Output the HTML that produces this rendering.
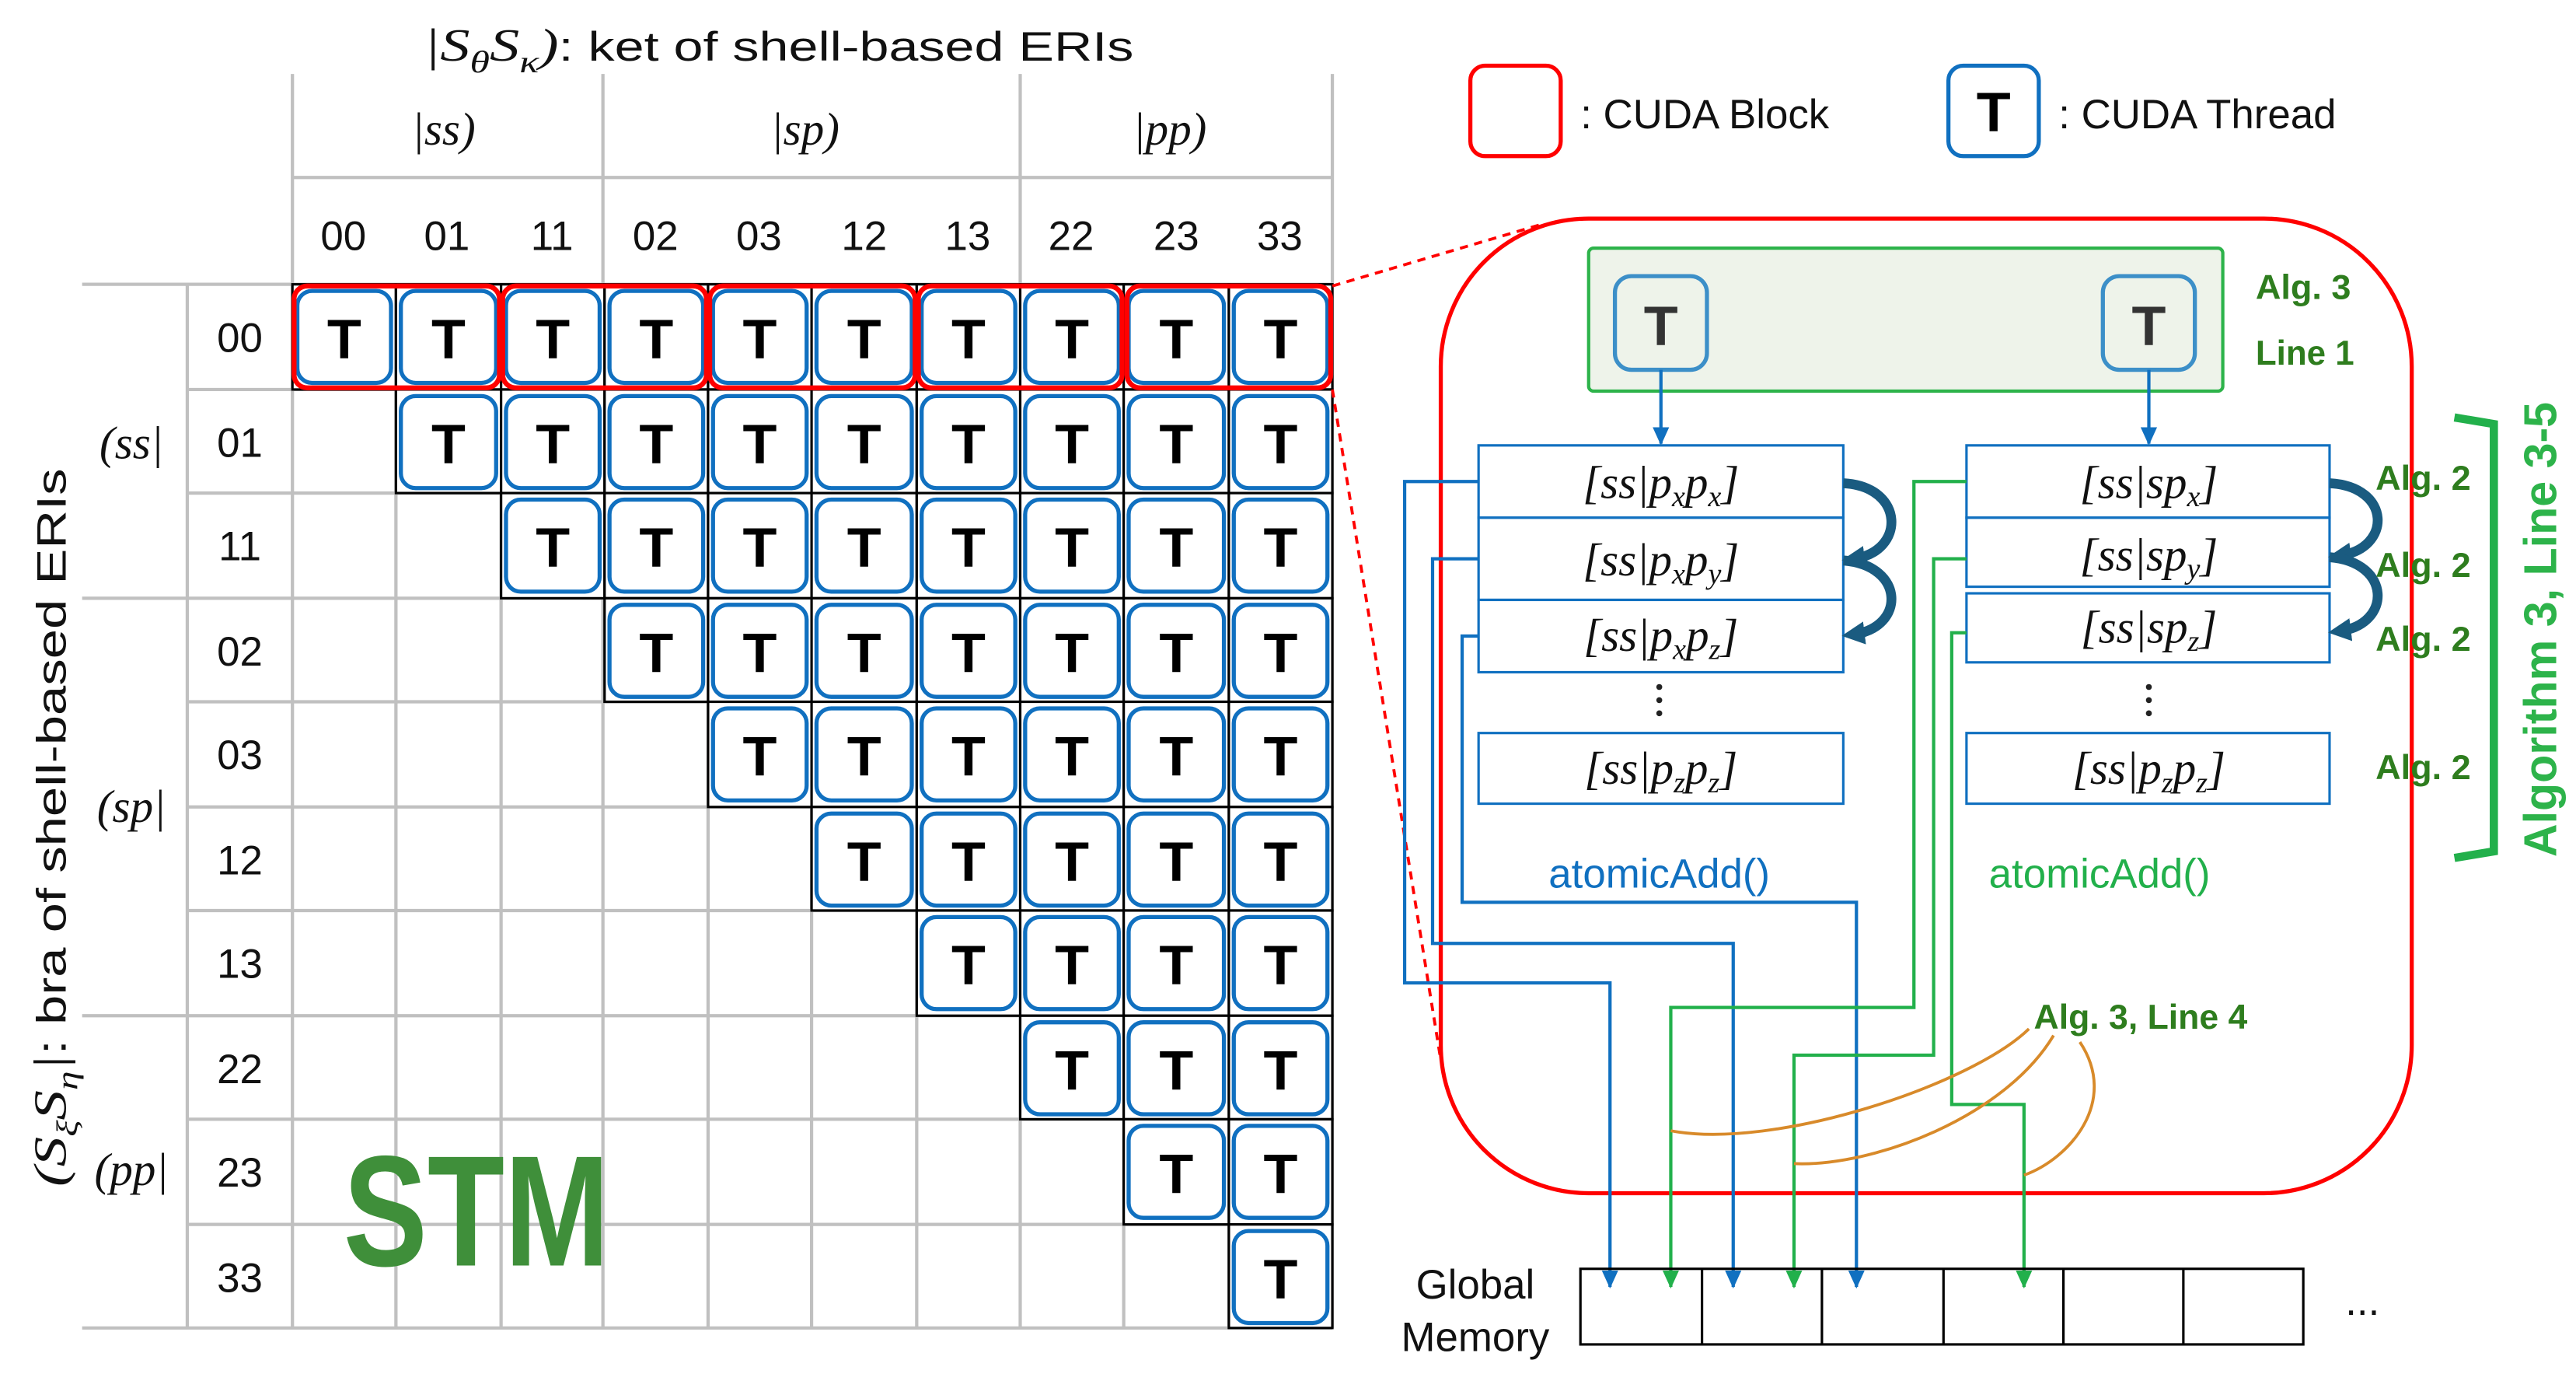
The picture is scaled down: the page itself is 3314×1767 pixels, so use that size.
<!DOCTYPE html>
<html><head><meta charset="utf-8"><style>
html,body{margin:0;padding:0;background:#fff}
svg{display:block}
.g{stroke:#c0c0c0;stroke-width:2;fill:none}
.k{fill:#fff;stroke:#000;stroke-width:1.5}
.b{fill:#fff;stroke:#1070c0;stroke-width:2.5}
.t{font-family:"Liberation Sans",sans-serif;font-weight:bold;font-size:34px;text-anchor:middle;fill:#000}
.n{font-family:"Liberation Sans",sans-serif;font-size:25px;text-anchor:middle;fill:#111}
.m{font-family:"Liberation Serif",serif;font-style:italic;font-size:28px;fill:#111}
.s{font-family:"Liberation Sans",sans-serif;font-size:25px;fill:#111}
.al{font-family:"Liberation Sans",sans-serif;font-weight:bold;font-size:21px;fill:#2e7d1e}
.bx{fill:#fff;stroke:#1070c0;stroke-width:1.5}
.bl{stroke:#1070c0;stroke-width:2;fill:none}
.gl{stroke:#22b04b;stroke-width:2;fill:none}
.cv{stroke:#1a5b80;stroke-width:6;fill:none}
.or{stroke:#d88a2a;stroke-width:1.8;fill:none}
</style></head><body>
<svg width="3314" height="1767" viewBox="0 0 1568 836" preserveAspectRatio="none" xmlns="http://www.w3.org/2000/svg">
<defs>
<marker id="ab" markerWidth="11" markerHeight="10" refX="10" refY="5" orient="auto" markerUnits="userSpaceOnUse"><path d="M0,0 L11,5 L0,10 z" fill="#1070c0"/></marker>
<marker id="ag" markerWidth="11" markerHeight="10" refX="10" refY="5" orient="auto" markerUnits="userSpaceOnUse"><path d="M0,0 L11,5 L0,10 z" fill="#22b04b"/></marker>
<marker id="ac" markerWidth="14" markerHeight="14" refX="7" refY="7" orient="auto" markerUnits="userSpaceOnUse"><path d="M0,0 L14,7 L0,14 z" fill="#1a5b80"/></marker>
</defs>
<g class="g">
<line x1="178" y1="45" x2="178" y2="808"/>
<line x1="367" y1="45" x2="367" y2="808"/>
<line x1="621" y1="45" x2="621" y2="808"/>
<line x1="811" y1="45" x2="811" y2="808"/>
<line x1="178" y1="108" x2="811" y2="108"/>
<line x1="114" y1="173" x2="114" y2="808"/>
<line x1="241" y1="173" x2="241" y2="808"/><line x1="305" y1="173" x2="305" y2="808"/>
<line x1="431" y1="173" x2="431" y2="808"/><line x1="494" y1="173" x2="494" y2="808"/>
<line x1="558" y1="173" x2="558" y2="808"/><line x1="684" y1="173" x2="684" y2="808"/>
<line x1="748" y1="173" x2="748" y2="808"/>
<line x1="50" y1="173" x2="811" y2="173"/><line x1="50" y1="364" x2="811" y2="364"/>
<line x1="50" y1="618" x2="811" y2="618"/><line x1="50" y1="808" x2="811" y2="808"/>
<line x1="114" y1="237" x2="811" y2="237"/><line x1="114" y1="300" x2="811" y2="300"/>
<line x1="114" y1="427" x2="811" y2="427"/><line x1="114" y1="491" x2="811" y2="491"/>
<line x1="114" y1="554" x2="811" y2="554"/><line x1="114" y1="681" x2="811" y2="681"/>
<line x1="114" y1="745" x2="811" y2="745"/>
</g>
<text x="258" y="37" class="s" font-size="30" textLength="432" lengthAdjust="spacingAndGlyphs"><tspan class="m" font-size="30">|S<tspan font-size="19" dy="7">θ</tspan><tspan dy="-7">S</tspan><tspan font-size="19" dy="7">κ</tspan><tspan dy="-7">)</tspan></tspan>: ket of shell-based ERIs</text>
<text x="270" y="88" class="m" text-anchor="middle">|ss)</text>
<text x="490" y="88" class="m" text-anchor="middle">|sp)</text>
<text x="712" y="88" class="m" text-anchor="middle">|pp)</text>
<g class="n">
<text x="209" y="152">00</text><text x="272" y="152">01</text><text x="336" y="152">11</text><text x="399" y="152">02</text><text x="462" y="152">03</text><text x="526" y="152">12</text><text x="589" y="152">13</text><text x="652" y="152">22</text><text x="716" y="152">23</text><text x="779" y="152">33</text>
<text x="146" y="214">00</text><text x="146" y="278">01</text><text x="146" y="341">11</text><text x="146" y="405">02</text><text x="146" y="468">03</text><text x="146" y="532">12</text><text x="146" y="595">13</text><text x="146" y="659">22</text><text x="146" y="722">23</text><text x="146" y="786">33</text>
</g>
<text x="80" y="279" class="m" text-anchor="middle">(ss|</text>
<text x="80" y="500" class="m" text-anchor="middle">(sp|</text>
<text x="80" y="721" class="m" text-anchor="middle">(pp|</text>
<text transform="translate(40,722) rotate(-90)" class="s" font-size="29" textLength="437" lengthAdjust="spacingAndGlyphs"><tspan class="m" font-size="29">(S<tspan font-size="18" dy="7">ξ</tspan><tspan dy="-7">S</tspan><tspan font-size="18" dy="7">η</tspan><tspan dy="-7">|</tspan></tspan>: bra of shell-based ERIs</text>
<text x="209" y="770" font-family="Liberation Sans,sans-serif" font-weight="bold" font-size="96" fill="#3f8f3a" textLength="162" lengthAdjust="spacingAndGlyphs">STM</text>
<g>
<rect class="k" x="178" y="173" width="63" height="64"/><rect class="k" x="241" y="173" width="64" height="64"/><rect class="k" x="305" y="173" width="63" height="64"/><rect class="k" x="368" y="173" width="63" height="64"/><rect class="k" x="431" y="173" width="63" height="64"/><rect class="k" x="494" y="173" width="64" height="64"/><rect class="k" x="558" y="173" width="63" height="64"/><rect class="k" x="621" y="173" width="63" height="64"/><rect class="k" x="684" y="173" width="64" height="64"/><rect class="k" x="748" y="173" width="63" height="64"/>
<rect class="k" x="241" y="237" width="64" height="63"/><rect class="k" x="305" y="237" width="63" height="63"/><rect class="k" x="368" y="237" width="63" height="63"/><rect class="k" x="431" y="237" width="63" height="63"/><rect class="k" x="494" y="237" width="64" height="63"/><rect class="k" x="558" y="237" width="63" height="63"/><rect class="k" x="621" y="237" width="63" height="63"/><rect class="k" x="684" y="237" width="64" height="63"/><rect class="k" x="748" y="237" width="63" height="63"/>
<rect class="k" x="305" y="300" width="63" height="64"/><rect class="k" x="368" y="300" width="63" height="64"/><rect class="k" x="431" y="300" width="63" height="64"/><rect class="k" x="494" y="300" width="64" height="64"/><rect class="k" x="558" y="300" width="63" height="64"/><rect class="k" x="621" y="300" width="63" height="64"/><rect class="k" x="684" y="300" width="64" height="64"/><rect class="k" x="748" y="300" width="63" height="64"/>
<rect class="k" x="368" y="364" width="63" height="63"/><rect class="k" x="431" y="364" width="63" height="63"/><rect class="k" x="494" y="364" width="64" height="63"/><rect class="k" x="558" y="364" width="63" height="63"/><rect class="k" x="621" y="364" width="63" height="63"/><rect class="k" x="684" y="364" width="64" height="63"/><rect class="k" x="748" y="364" width="63" height="63"/>
<rect class="k" x="431" y="427" width="63" height="64"/><rect class="k" x="494" y="427" width="64" height="64"/><rect class="k" x="558" y="427" width="63" height="64"/><rect class="k" x="621" y="427" width="63" height="64"/><rect class="k" x="684" y="427" width="64" height="64"/><rect class="k" x="748" y="427" width="63" height="64"/>
<rect class="k" x="494" y="491" width="64" height="63"/><rect class="k" x="558" y="491" width="63" height="63"/><rect class="k" x="621" y="491" width="63" height="63"/><rect class="k" x="684" y="491" width="64" height="63"/><rect class="k" x="748" y="491" width="63" height="63"/>
<rect class="k" x="558" y="554" width="63" height="64"/><rect class="k" x="621" y="554" width="63" height="64"/><rect class="k" x="684" y="554" width="64" height="64"/><rect class="k" x="748" y="554" width="63" height="64"/>
<rect class="k" x="621" y="618" width="63" height="63"/><rect class="k" x="684" y="618" width="64" height="63"/><rect class="k" x="748" y="618" width="63" height="63"/>
<rect class="k" x="684" y="681" width="64" height="64"/><rect class="k" x="748" y="681" width="63" height="64"/>
<rect class="k" x="748" y="745" width="63" height="63"/>
</g>
<g>
<rect class="b" x="181" y="177" width="57" height="56" rx="9"/><rect class="b" x="244" y="177" width="58" height="56" rx="9"/><rect class="b" x="308" y="177" width="57" height="56" rx="9"/><rect class="b" x="371" y="177" width="57" height="56" rx="9"/><rect class="b" x="434" y="177" width="57" height="56" rx="9"/><rect class="b" x="497" y="177" width="58" height="56" rx="9"/><rect class="b" x="561" y="177" width="57" height="56" rx="9"/><rect class="b" x="624" y="177" width="57" height="56" rx="9"/><rect class="b" x="687" y="177" width="58" height="56" rx="9"/><rect class="b" x="751" y="177" width="57" height="56" rx="9"/>
<rect class="b" x="244" y="241" width="58" height="56" rx="9"/><rect class="b" x="308" y="241" width="57" height="56" rx="9"/><rect class="b" x="371" y="241" width="57" height="56" rx="9"/><rect class="b" x="434" y="241" width="57" height="56" rx="9"/><rect class="b" x="497" y="241" width="58" height="56" rx="9"/><rect class="b" x="561" y="241" width="57" height="56" rx="9"/><rect class="b" x="624" y="241" width="57" height="56" rx="9"/><rect class="b" x="687" y="241" width="58" height="56" rx="9"/><rect class="b" x="751" y="241" width="57" height="56" rx="9"/>
<rect class="b" x="308" y="304" width="57" height="56" rx="9"/><rect class="b" x="371" y="304" width="57" height="56" rx="9"/><rect class="b" x="434" y="304" width="57" height="56" rx="9"/><rect class="b" x="497" y="304" width="58" height="56" rx="9"/><rect class="b" x="561" y="304" width="57" height="56" rx="9"/><rect class="b" x="624" y="304" width="57" height="56" rx="9"/><rect class="b" x="687" y="304" width="58" height="56" rx="9"/><rect class="b" x="751" y="304" width="57" height="56" rx="9"/>
<rect class="b" x="371" y="368" width="57" height="56" rx="9"/><rect class="b" x="434" y="368" width="57" height="56" rx="9"/><rect class="b" x="497" y="368" width="58" height="56" rx="9"/><rect class="b" x="561" y="368" width="57" height="56" rx="9"/><rect class="b" x="624" y="368" width="57" height="56" rx="9"/><rect class="b" x="687" y="368" width="58" height="56" rx="9"/><rect class="b" x="751" y="368" width="57" height="56" rx="9"/>
<rect class="b" x="434" y="431" width="57" height="56" rx="9"/><rect class="b" x="497" y="431" width="58" height="56" rx="9"/><rect class="b" x="561" y="431" width="57" height="56" rx="9"/><rect class="b" x="624" y="431" width="57" height="56" rx="9"/><rect class="b" x="687" y="431" width="58" height="56" rx="9"/><rect class="b" x="751" y="431" width="57" height="56" rx="9"/>
<rect class="b" x="497" y="495" width="58" height="56" rx="9"/><rect class="b" x="561" y="495" width="57" height="56" rx="9"/><rect class="b" x="624" y="495" width="57" height="56" rx="9"/><rect class="b" x="687" y="495" width="58" height="56" rx="9"/><rect class="b" x="751" y="495" width="57" height="56" rx="9"/>
<rect class="b" x="561" y="558" width="57" height="56" rx="9"/><rect class="b" x="624" y="558" width="57" height="56" rx="9"/><rect class="b" x="687" y="558" width="58" height="56" rx="9"/><rect class="b" x="751" y="558" width="57" height="56" rx="9"/>
<rect class="b" x="624" y="622" width="57" height="56" rx="9"/><rect class="b" x="687" y="622" width="58" height="56" rx="9"/><rect class="b" x="751" y="622" width="57" height="56" rx="9"/>
<rect class="b" x="687" y="685" width="58" height="56" rx="9"/><rect class="b" x="751" y="685" width="57" height="56" rx="9"/>
<rect class="b" x="751" y="749" width="57" height="56" rx="9"/>
</g>
<g class="t">
<text x="209.5" y="218">T</text><text x="273" y="218">T</text><text x="336.5" y="218">T</text><text x="399.5" y="218">T</text><text x="462.5" y="218">T</text><text x="526" y="218">T</text><text x="589.5" y="218">T</text><text x="652.5" y="218">T</text><text x="716" y="218">T</text><text x="779.5" y="218">T</text>
<text x="273" y="282">T</text><text x="336.5" y="282">T</text><text x="399.5" y="282">T</text><text x="462.5" y="282">T</text><text x="526" y="282">T</text><text x="589.5" y="282">T</text><text x="652.5" y="282">T</text><text x="716" y="282">T</text><text x="779.5" y="282">T</text>
<text x="336.5" y="345">T</text><text x="399.5" y="345">T</text><text x="462.5" y="345">T</text><text x="526" y="345">T</text><text x="589.5" y="345">T</text><text x="652.5" y="345">T</text><text x="716" y="345">T</text><text x="779.5" y="345">T</text>
<text x="399.5" y="409">T</text><text x="462.5" y="409">T</text><text x="526" y="409">T</text><text x="589.5" y="409">T</text><text x="652.5" y="409">T</text><text x="716" y="409">T</text><text x="779.5" y="409">T</text>
<text x="462.5" y="472">T</text><text x="526" y="472">T</text><text x="589.5" y="472">T</text><text x="652.5" y="472">T</text><text x="716" y="472">T</text><text x="779.5" y="472">T</text>
<text x="526" y="536">T</text><text x="589.5" y="536">T</text><text x="652.5" y="536">T</text><text x="716" y="536">T</text><text x="779.5" y="536">T</text>
<text x="589.5" y="599">T</text><text x="652.5" y="599">T</text><text x="716" y="599">T</text><text x="779.5" y="599">T</text>
<text x="652.5" y="663">T</text><text x="716" y="663">T</text><text x="779.5" y="663">T</text>
<text x="716" y="726">T</text><text x="779.5" y="726">T</text>
<text x="779.5" y="790">T</text>
</g>
<g fill="none" stroke="#f00" stroke-width="3">
<rect x="179" y="174" width="125" height="62" rx="8"/><rect x="306" y="174" width="124" height="62" rx="8"/><rect x="432" y="174" width="125" height="62" rx="8"/><rect x="559" y="174" width="124" height="62" rx="8"/><rect x="686" y="174" width="124" height="62" rx="8"/>
</g>
<g stroke="#f00" stroke-width="1.8" stroke-dasharray="5,4" fill="none">
<line x1="811" y1="174" x2="940" y2="136"/>
<line x1="811" y1="237" x2="877" y2="645"/>
</g>
<rect x="895" y="40" width="55" height="55" rx="9" fill="#fff" stroke="#f00" stroke-width="2.5"/>
<text x="962" y="78" class="s" font-size="26">: CUDA Block</text>
<rect x="1186" y="40" width="55" height="55" rx="9" fill="#fff" stroke="#1070c0" stroke-width="2.5"/>
<text x="1213.5" y="80" class="t">T</text>
<text x="1253" y="78" class="s" font-size="26">: CUDA Thread</text>
<rect x="877" y="133" width="591" height="593" rx="90" fill="none" stroke="#f00" stroke-width="2.5"/>
<rect x="967" y="151" width="386" height="87" rx="3" fill="#eef3ea" stroke="#2db34a" stroke-width="2"/>
<rect x="983" y="168" width="56" height="57" rx="10" fill="#eef3ea" stroke="#3c8fc8" stroke-width="2.5"/>
<rect x="1280" y="168" width="56" height="57" rx="10" fill="#eef3ea" stroke="#3c8fc8" stroke-width="2.5"/>
<text x="1011" y="210" class="t" style="fill:#333">T</text>
<text x="1308" y="210" class="t" style="fill:#333">T</text>
<text x="1373" y="182" class="al" textLength="58" lengthAdjust="spacingAndGlyphs">Alg. 3</text>
<text x="1373" y="222" class="al" textLength="60" lengthAdjust="spacingAndGlyphs">Line 1</text>
<line x1="1011" y1="225" x2="1011" y2="270" stroke="#1070c0" stroke-width="2" marker-end="url(#ab)"/>
<line x1="1308" y1="225" x2="1308" y2="270" stroke="#1070c0" stroke-width="2" marker-end="url(#ab)"/>
<rect class="bx" x="900" y="271" width="222" height="44"/><rect class="bx" x="900" y="315" width="222" height="50"/><rect class="bx" x="900" y="365" width="222" height="44"/>
<rect class="bx" x="900" y="446" width="222" height="43"/>
<rect class="bx" x="1197" y="271" width="221" height="44"/><rect class="bx" x="1197" y="315" width="221" height="42"/><rect class="bx" x="1197" y="361" width="221" height="42"/>
<rect class="bx" x="1197" y="446" width="221" height="43"/>
<g class="m" text-anchor="middle" font-size="28">
<text x="1011" y="303">[ss|p<tspan font-size="18" dy="5">x</tspan><tspan dy="-5">p</tspan><tspan font-size="18" dy="5">x</tspan><tspan dy="-5">]</tspan></text>
<text x="1011" y="350">[ss|p<tspan font-size="18" dy="5">x</tspan><tspan dy="-5">p</tspan><tspan font-size="18" dy="5">y</tspan><tspan dy="-5">]</tspan></text>
<text x="1011" y="396">[ss|p<tspan font-size="18" dy="5">x</tspan><tspan dy="-5">p</tspan><tspan font-size="18" dy="5">z</tspan><tspan dy="-5">]</tspan></text>
<text x="1011" y="477">[ss|p<tspan font-size="18" dy="5">z</tspan><tspan dy="-5">p</tspan><tspan font-size="18" dy="5">z</tspan><tspan dy="-5">]</tspan></text>
<text x="1308" y="303">[ss|sp<tspan font-size="18" dy="5">x</tspan><tspan dy="-5">]</tspan></text>
<text x="1308" y="347">[ss|sp<tspan font-size="18" dy="5">y</tspan><tspan dy="-5">]</tspan></text>
<text x="1308" y="391">[ss|sp<tspan font-size="18" dy="5">z</tspan><tspan dy="-5">]</tspan></text>
<text x="1308" y="477">[ss|p<tspan font-size="18" dy="5">z</tspan><tspan dy="-5">p</tspan><tspan font-size="18" dy="5">z</tspan><tspan dy="-5">]</tspan></text>
</g>
<g fill="#222"><circle cx="1010" cy="418" r="1.8"/><circle cx="1010" cy="426" r="1.8"/><circle cx="1010" cy="434" r="1.8"/>
<circle cx="1308" cy="418" r="1.8"/><circle cx="1308" cy="426" r="1.8"/><circle cx="1308" cy="434" r="1.8"/></g>
<path class="cv" d="M1122,294 C1160,296 1160,336 1128,340" marker-end="url(#ac)"/>
<path class="cv" d="M1122,341 C1160,344 1160,382 1128,386" marker-end="url(#ac)"/>
<path class="cv" d="M1418,294 C1456,296 1456,334 1424,338" marker-end="url(#ac)"/>
<path class="cv" d="M1418,339 C1456,342 1456,380 1424,384" marker-end="url(#ac)"/>
<g class="al">
<text x="1446" y="298" textLength="58" lengthAdjust="spacingAndGlyphs">Alg. 2</text>
<text x="1446" y="351" textLength="58" lengthAdjust="spacingAndGlyphs">Alg. 2</text>
<text x="1446" y="396" textLength="58" lengthAdjust="spacingAndGlyphs">Alg. 2</text>
<text x="1446" y="474" textLength="58" lengthAdjust="spacingAndGlyphs">Alg. 2</text>
</g>
<path d="M1494,254 L1518,258 L1518,518 L1494,522" stroke="#22b04b" stroke-width="5" fill="none"/>
<text transform="translate(1556,383) rotate(-90)" text-anchor="middle" font-family="Liberation Sans,sans-serif" font-weight="bold" font-size="28" fill="#2db34a">Algorithm 3, Line 3-5</text>
<text x="1010" y="540" class="s" text-anchor="middle" style="fill:#1070c0">atomicAdd()</text>
<text x="1278" y="540" class="s" text-anchor="middle" style="fill:#22b04b">atomicAdd()</text>
<path class="bl" d="M900,293 L855,293 L855,598 L980,598 L980,783" marker-end="url(#ab)"/>
<path class="bl" d="M900,340 L872,340 L872,574 L1055,574 L1055,783" marker-end="url(#ab)"/>
<path class="bl" d="M900,387 L890,387 L890,549 L1130,549 L1130,783" marker-end="url(#ab)"/>
<path class="gl" d="M1197,293 L1165,293 L1165,613 L1017,613 L1017,783" marker-end="url(#ag)"/>
<path class="gl" d="M1197,340 L1177,340 L1177,642 L1092,642 L1092,783" marker-end="url(#ag)"/>
<path class="gl" d="M1197,385 L1188,385 L1188,672 L1232,672 L1232,783" marker-end="url(#ag)"/>
<path class="or" d="M1235,626 C1200,660 1080,700 1017,688"/>
<path class="or" d="M1250,630 C1220,680 1140,710 1092,708"/>
<path class="or" d="M1266,634 C1290,670 1260,705 1232,715"/>
<text x="1238" y="626" class="al" textLength="130" lengthAdjust="spacingAndGlyphs">Alg. 3, Line 4</text>
<text x="898" y="790" class="s" text-anchor="middle">Global</text>
<text x="898" y="822" class="s" text-anchor="middle">Memory</text>
<rect x="962" y="772" width="440" height="46" fill="none" stroke="#000" stroke-width="1.5"/>
<g stroke="#000" stroke-width="1.5"><line x1="1036" y1="772" x2="1036" y2="818"/><line x1="1109" y1="772" x2="1109" y2="818"/><line x1="1183" y1="772" x2="1183" y2="818"/><line x1="1256" y1="772" x2="1256" y2="818"/><line x1="1329" y1="772" x2="1329" y2="818"/></g>
<text x="1438" y="800" class="s" text-anchor="middle">...</text>
</svg>
</body></html>
